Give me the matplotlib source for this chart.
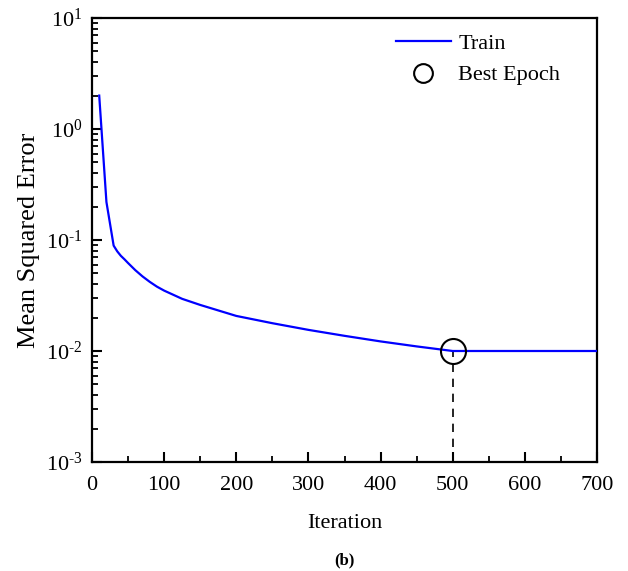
import matplotlib
matplotlib.use("Agg")
import matplotlib.pyplot as plt
from matplotlib.ticker import FixedLocator, LogLocator, NullFormatter, FuncFormatter
import numpy as np

plt.rcParams['font.family'] = ['Liberation Serif', 'DejaVu Serif']
plt.rcParams['mathtext.fontset'] = 'custom'
plt.rcParams['mathtext.rm'] = 'Liberation Serif'
plt.rcParams['mathtext.it'] = 'Liberation Serif:italic'
plt.rcParams['mathtext.bf'] = 'Liberation Serif:bold'

iterations = [10, 20, 30, 35, 40, 45, 50, 60, 70, 80, 90, 100, 125, 150, 175, 200,
              250, 300, 350, 400, 450, 500, 550, 600, 650, 700]
mse = [2.0, 0.22, 0.089, 0.079, 0.072, 0.067, 0.062, 0.0535, 0.047, 0.042, 0.038,
       0.035, 0.0295, 0.026, 0.0232, 0.0207, 0.0178, 0.0155, 0.0137, 0.0122, 0.011,
       0.010, 0.010, 0.010, 0.010, 0.010]
best_epoch = 500
best_mse = 0.010
x_ticks = [0, 100, 200, 300, 400, 500, 600, 700]

fig = plt.figure(figsize=(6.28, 5.71), dpi=100)
ax = fig.add_axes([92/628, 1 - 462/571, (597-92)/628, (462-18)/571])

ax.plot(iterations, mse, color='#0000ff', lw=1.6, label='Train', zorder=3)
ax.plot([best_epoch], [best_mse], 'o', mfc='none', mec='black', mew=1.5, ms=18,
        label='Best Epoch', zorder=4)
ax.plot([best_epoch, best_epoch], [1e-3, best_mse], color='black', lw=1.2,
        ls=(0, (5, 4)), zorder=2)

ax.set_yscale('log')
ax.set_xlim(0, 700)
ax.set_ylim(1e-3, 1e1)

ax.xaxis.set_major_locator(FixedLocator(x_ticks))
ax.xaxis.set_minor_locator(FixedLocator(np.arange(50, 700, 100)))
ax.yaxis.set_major_locator(LogLocator(base=10, numticks=10))
ax.yaxis.set_minor_locator(LogLocator(base=10, subs=np.arange(2, 10), numticks=10))
ax.yaxis.set_minor_formatter(NullFormatter())


def fmt(v, p):
    if v <= 0:
        return ''
    e = int(round(np.log10(v)))
    s = str(e).replace('-', '\u2010')
    return r'$\mathregular{10^{%s}}$' % s


ax.yaxis.set_major_formatter(FuncFormatter(fmt))

ax.tick_params(axis='both', which='major', direction='in', length=7, width=1.5,
               labelsize=16, top=False, right=False, pad=7)
ax.tick_params(axis='x', which='major', pad=10)
ax.tick_params(axis='both', which='minor', direction='in', length=4, width=1.3,
               top=False, right=False)
for s in ax.spines.values():
    s.set_linewidth(1.6)

ax.set_xlabel('Iteration', fontsize=16, labelpad=14)
ax.set_ylabel('Mean Squared Error', fontsize=19, labelpad=4)

leg = ax.legend(loc='upper right', frameon=False, fontsize=16, markerscale=0.75,
                handlelength=2.45, handletextpad=0.35, borderaxespad=0.0,
                labelspacing=0.5, bbox_to_anchor=(0.945, 0.986))

fig.text((92+597)/2/628, 1 - 560/571, '(b)', ha='center', va='center',
         fontsize=12, fontweight='bold')

fig.savefig('out.png', dpi=100)
